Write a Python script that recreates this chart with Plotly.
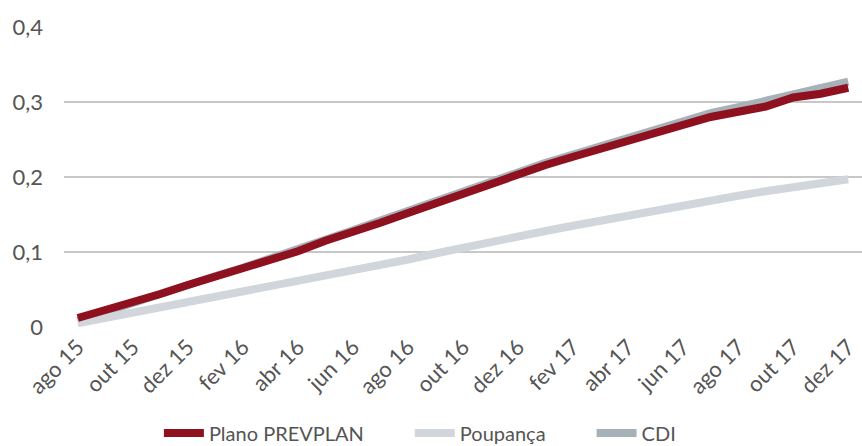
import plotly.graph_objects as go

months = ["ago 15", "set 15", "out 15", "nov 15", "dez 15",
          "jan 16", "fev 16", "mar 16", "abr 16", "mai 16", "jun 16", "jul 16",
          "ago 16", "set 16", "out 16", "nov 16", "dez 16",
          "jan 17", "fev 17", "mar 17", "abr 17", "mai 17", "jun 17", "jul 17",
          "ago 17", "set 17", "out 17", "nov 17", "dez 17"]

prevplan = [0.012, 0.022, 0.033, 0.044, 0.056, 0.067, 0.078, 0.090, 0.101, 0.115,
            0.126, 0.139, 0.152, 0.165, 0.178, 0.190, 0.203, 0.216, 0.227, 0.238,
            0.249, 0.259, 0.269, 0.280, 0.287, 0.294, 0.306, 0.311, 0.319]

poupanca = [0.005, 0.012, 0.019, 0.026, 0.033, 0.040, 0.047, 0.053, 0.060, 0.068,
            0.076, 0.083, 0.090, 0.098, 0.106, 0.113, 0.120, 0.128, 0.135, 0.142,
            0.149, 0.156, 0.162, 0.169, 0.175, 0.181, 0.186, 0.191, 0.197]

cdi = [0.008, 0.020, 0.033, 0.046, 0.058, 0.068, 0.079, 0.091, 0.103, 0.117,
       0.129, 0.142, 0.155, 0.168, 0.180, 0.192, 0.205, 0.219, 0.230, 0.241,
       0.252, 0.263, 0.274, 0.285, 0.293, 0.301, 0.311, 0.318, 0.327]

tick_months = months[::2]
y_ticks = [0, 0.1, 0.2, 0.3, 0.4]
y_labels = ["0", "0,1", "0,2", "0,3", "0,4"]

series_names = ["Plano PREVPLAN", "Poupança", "CDI"]

FONT = "Lato"
TXT = "#555555"
NB = "\u00a0"

fig = go.Figure()
fig.add_trace(go.Scatter(x=months, y=cdi, name=series_names[2], mode="lines",
                         line=dict(color="#A7B1B8", width=8), legendrank=3))
fig.add_trace(go.Scatter(x=months, y=poupanca, name=series_names[1] + NB * 8, mode="lines",
                         line=dict(color="#D1D6DC", width=8), legendrank=2))
fig.add_trace(go.Scatter(x=months, y=prevplan, name=series_names[0] + NB * 8, mode="lines",
                         line=dict(color="#8F111F", width=8), legendrank=1))

fig.update_layout(
    width=862, height=446,
    margin=dict(l=64, r=0, t=27, b=119, autoexpand=False),
    plot_bgcolor="white", paper_bgcolor="white",
    font=dict(family=FONT, size=20, color=TXT),
    showlegend=True,
    legend=dict(orientation="h", x=0.446, xanchor="center", y=-0.353, yanchor="middle",
                font=dict(family=FONT, size=20, color=TXT),
                itemwidth=40, tracegroupgap=0),
    xaxis=dict(type="category", categoryorder="array", categoryarray=months,
               range=[-0.5, len(months) - 0.5], automargin=False,
               tickmode="array", tickvals=tick_months, ticktext=tick_months,
               tickangle=-45, showgrid=False, showline=False, zeroline=False,
               ticks="", ticklabelstandoff=2,
               tickfont=dict(family=FONT, size=22, color=TXT)),
    yaxis=dict(range=[0, 0.4], tickmode="array", tickvals=y_ticks, ticktext=y_labels,
               showgrid=True, gridcolor="#C8C8C8", gridwidth=1.5, automargin=False,
               zeroline=False, showline=False, ticks="", ticklabelstandoff=20,
               tickfont=dict(family=FONT, size=22, color=TXT)),
)

fig.write_html("out.html", config={"displayModeBar": False},
               post_script="document.body.style.margin='0';document.body.style.overflow='hidden';")
